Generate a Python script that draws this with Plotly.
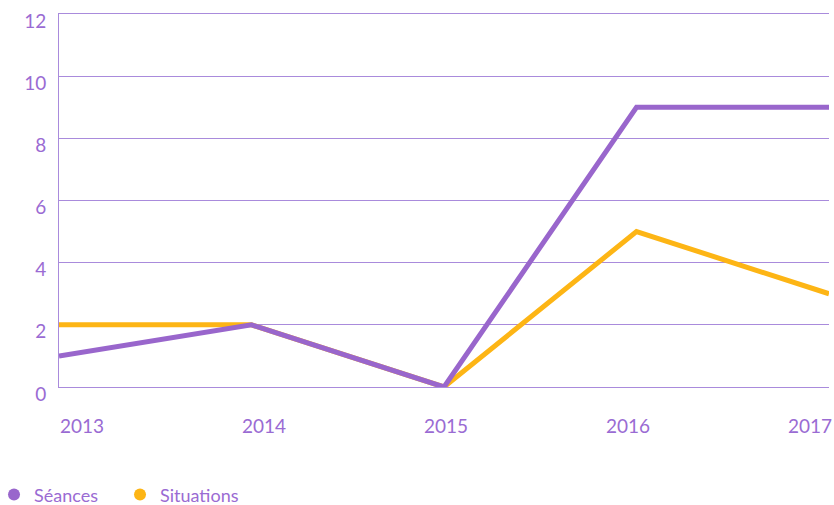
import plotly.graph_objects as go

years = [2013, 2014, 2015, 2016, 2017]
seances = [1, 2, 0, 9, 9]
situations = [2, 2, 0, 5, 3]
y_ticks = [0, 2, 4, 6, 8, 10, 12]

PURPLE = "#9966cc"
ORANGE = "#fdb515"
TEXT = "#9a6bd3"
GRID = "#a98bdc"
FONT = "Lato"

fig = go.Figure()
fig.add_trace(go.Scatter(x=years, y=situations, mode="lines", name="Situations",
                         line=dict(color=ORANGE, width=5), showlegend=False, hoverinfo="skip"))
fig.add_trace(go.Scatter(x=years, y=seances, mode="lines", name="Séances",
                         line=dict(color=PURPLE, width=5), showlegend=False, hoverinfo="skip"))
# legend entries as circles
fig.add_trace(go.Scatter(x=[None], y=[None], mode="markers", name="Séances",
                         marker=dict(color=PURPLE, size=14, symbol="circle")))
fig.add_trace(go.Scatter(x=[None], y=[None], mode="markers", name="Situations",
                         marker=dict(color=ORANGE, size=14, symbol="circle")))
# invisible trace on label axis
fig.add_trace(go.Scatter(x=years, y=[None]*len(years), xaxis="x2", mode="lines",
                         showlegend=False, hoverinfo="skip"))

fig.update_layout(
    width=834, height=505,
    margin=dict(l=59, r=5, t=14, b=118, autoexpand=False),
    paper_bgcolor="white", plot_bgcolor="white",
    font=dict(family=FONT, color=TEXT, size=19),
    xaxis=dict(range=[2013, 2017], showgrid=False, showticklabels=False, ticks="",
               showline=True, linecolor=GRID, linewidth=1, mirror=True,
               zeroline=False, fixedrange=True, automargin=False),
    xaxis2=dict(overlaying="x", side="bottom", range=[2012.874, 2017.104],
                tickvals=years, ticktext=[str(y) for y in years], automargin=False,
                showgrid=False, showline=False, zeroline=False, ticks="",
                ticklabelstandoff=26, ticklabeloverflow="allow",
                tickfont=dict(size=19, color=TEXT)),
    yaxis=dict(range=[0, 12], tickvals=y_ticks, showgrid=True, gridcolor=GRID, gridwidth=1,
               showline=True, linecolor=GRID, linewidth=1, zeroline=False, ticks="",
               automargin=False, ticklabeloverflow="allow",
               ticklabelstandoff=8, ticklabelshift=7, tickfont=dict(size=19, color=TEXT)),
    legend=dict(orientation="h", xref="paper", yref="paper", x=-0.0844, y=-0.289,
                xanchor="left", yanchor="middle", font=dict(size=18, color=TEXT),
                entrywidth=81, entrywidthmode="pixels", itemsizing="constant"),
    showlegend=True,
)

fig.write_html("out.html", config={"displayModeBar": False},
               post_script="document.body.style.margin='0';")
